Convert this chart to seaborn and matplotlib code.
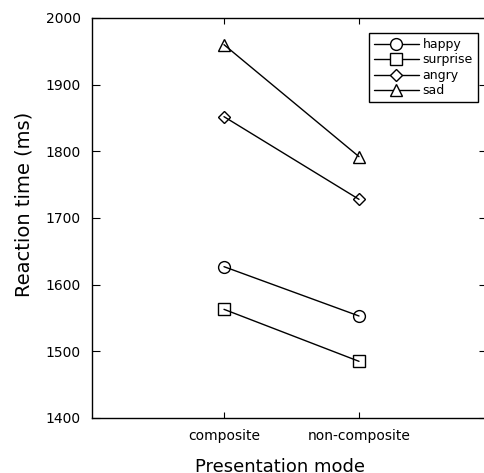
import matplotlib
matplotlib.use("Agg")
import matplotlib.pyplot as plt
from matplotlib.lines import Line2D
import seaborn as sns
import pandas as pd

modes = ["composite", "non-composite"]
emotions = ["happy", "surprise", "angry", "sad"]
happy = [1627, 1553]
surprise = [1563, 1485]
angry = [1852, 1728]
sad = [1960, 1792]
yticks = [1400, 1500, 1600, 1700, 1800, 1900, 2000]

series = {"happy": happy, "surprise": surprise, "angry": angry, "sad": sad}
rows = []
for emo in emotions:
    for m, v in zip(modes, series[emo]):
        rows.append({"mode": m, "rt": v, "emotion": emo})
df = pd.DataFrame(rows)

sns.set_style("ticks")
plt.rcParams["font.family"] = ["DejaVu Sans"]
plt.rcParams["text.color"] = "black"
plt.rcParams["axes.labelcolor"] = "black"

W, H = 485, 473
fig = plt.figure(figsize=(W / 100, H / 100), dpi=100)
ax = fig.add_axes([92 / W, 55 / H, 395 / W, 400 / H])

markers = ["o", "s", "D", "^"]
sns.pointplot(data=df, x="mode", y="rt", hue="emotion", order=modes,
              hue_order=emotions, markers=markers, linestyles="-",
              palette=["black"] * 4, errorbar=None, dodge=False,
              legend=False, ax=ax, linewidth=1.0, markersize=8.5,
              markeredgewidth=1.0, markerfacecolor="none")
for ln in ax.lines:
    if ln.get_marker() == "D":
        ln.set_markersize(6.5)

ax.set_xlim(-132 / 135, 263 / 135)
ax.set_ylim(1400, 2000)
ax.set_yticks(yticks)
ax.set_yticklabels([str(t) for t in yticks])

for s in ax.spines.values():
    s.set_color("black")
    s.set_linewidth(1.0)
ax.spines["right"].set_visible(False)

ax.tick_params(axis="both", direction="in", top=True, right=True,
               labelsize=10, colors="black", width=0.8)
ax.tick_params(axis="y", length=6, pad=8)
ax.tick_params(axis="x", length=4, pad=8)

ax.set_ylabel("Reaction time (ms)", fontsize=14, color="black")
ax.set_xlabel("Presentation mode", fontsize=13, color="black")
ax.yaxis.set_label_coords(-0.149, 0.535)
ax.xaxis.set_label_coords(0.476, -0.1)

handles = []
for emo, mk in zip(emotions, markers):
    handles.append(Line2D([], [], color="black", marker=mk,
                          markersize=6.5 if mk == "D" else 8.5,
                          markerfacecolor="white", markeredgewidth=1.0,
                          linewidth=1.0))
leg = ax.legend(handles, emotions, loc="upper right",
                bbox_to_anchor=(0.977, 0.9625), borderaxespad=0,
                fontsize=9, frameon=True, fancybox=False, framealpha=1,
                edgecolor="black", handlelength=3.6, handletextpad=0.3,
                labelspacing=0.2, borderpad=0.4)
leg.get_frame().set_linewidth(1.0)
for t in leg.get_texts():
    t.set_color("black")

fig.savefig("out.png", dpi=100)
